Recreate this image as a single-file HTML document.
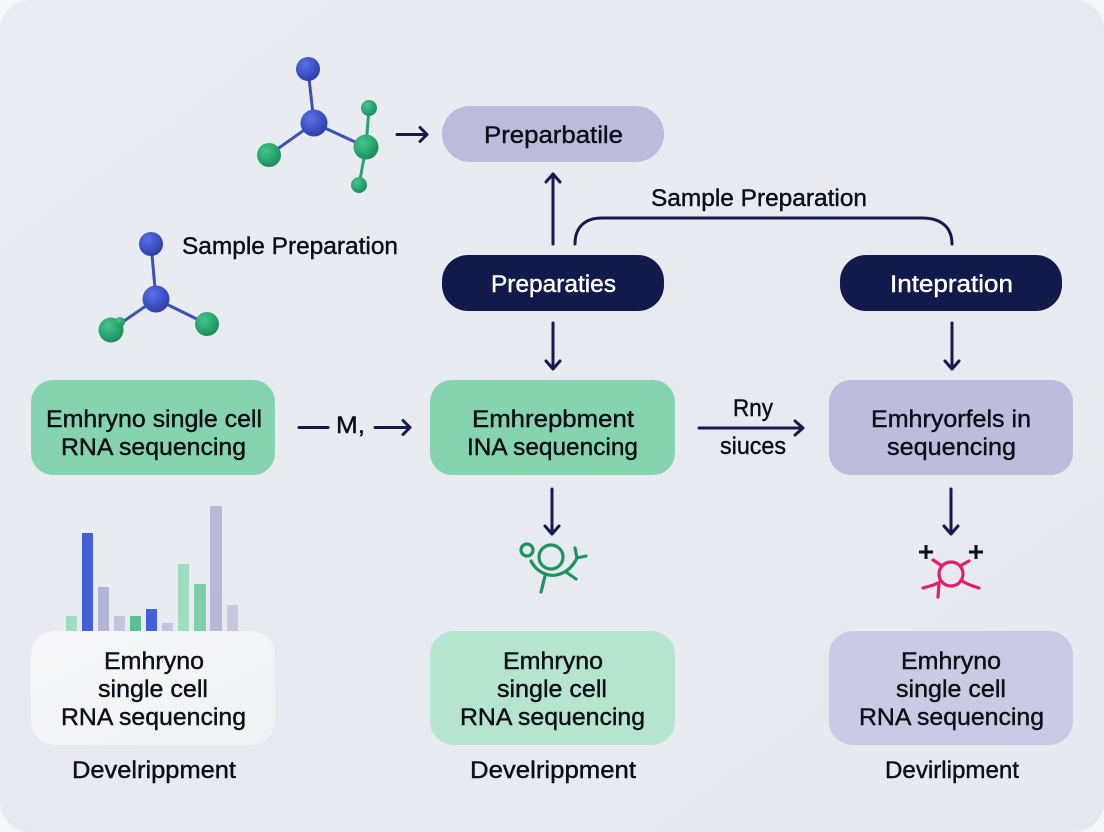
<!DOCTYPE html>
<html><head><meta charset="utf-8"><style>
html,body{margin:0;padding:0;background:#f5f6f8}
svg{display:block}
text{font-family:"Liberation Sans",sans-serif;font-size:24px;fill:#0b0e14;stroke:#0b0e14;stroke-width:.4px}
</style></head><body>
<svg width="1104" height="832" viewBox="0 0 1104 832" xmlns="http://www.w3.org/2000/svg">
<defs>
<radialGradient id="b" cx=".38" cy=".32" r=".75"><stop offset="0" stop-color="#5a72e6"/><stop offset=".6" stop-color="#3a50c4"/><stop offset="1" stop-color="#2c3c9c"/></radialGradient>
<radialGradient id="g" cx=".38" cy=".32" r=".75"><stop offset="0" stop-color="#46c48c"/><stop offset=".6" stop-color="#27a46c"/><stop offset="1" stop-color="#1a8454"/></radialGradient>
<linearGradient id="bg" x1="0" y1="0" x2="1" y2="1"><stop offset="0" stop-color="#e9ecf0"/><stop offset="1" stop-color="#e6e9ef"/></linearGradient>
<linearGradient id="w" x1="0" y1="0" x2="1" y2="1"><stop offset="0" stop-color="#f7f7f8"/><stop offset="1" stop-color="#eff1f4"/></linearGradient>
</defs>
<rect width="1104" height="832" fill="#f5f6f8"/>
<rect width="1104" height="832" rx="30" fill="url(#bg)"/>

<!-- bars -->
<g>
<rect x="66" y="616" width="11" height="16" fill="#a0dcc0"/>
<rect x="82" y="533" width="11" height="99" fill="#4460d8"/>
<rect x="98" y="587" width="11" height="45" fill="#b4b4d8"/>
<rect x="114" y="616" width="11" height="16" fill="#c4c4de"/>
<rect x="130" y="616" width="11" height="16" fill="#5cc090"/>
<rect x="146" y="609" width="11" height="23" fill="#4460d8"/>
<rect x="162" y="623" width="11" height="9" fill="#c4c4e2"/>
<rect x="178" y="564" width="11" height="68" fill="#a0dcc0"/>
<rect x="194" y="584" width="12" height="48" fill="#7ed0a8"/>
<rect x="210" y="506" width="12" height="126" fill="#b8b8d8"/>
<rect x="227" y="605" width="11" height="27" fill="#c8c8e0"/>
</g>

<!-- boxes -->
<rect x="442" y="106" width="222" height="56" rx="28" fill="#bcbbdc"/>
<rect x="442" y="255" width="222" height="56" rx="26" fill="#121a4b"/>
<rect x="840" y="255" width="222" height="56" rx="26" fill="#121a4b"/>
<rect x="31" y="380" width="244" height="95" rx="22" fill="#86d3b0"/>
<rect x="430" y="380" width="245" height="95" rx="22" fill="#86d3b0"/>
<rect x="829" y="380" width="244" height="95" rx="22" fill="#bdbcdc"/>
<rect x="31" y="631" width="244" height="114" rx="24" fill="url(#w)"/>
<rect x="430" y="631" width="245" height="114" rx="24" fill="#b5e5cf"/>
<rect x="829" y="631" width="244" height="114" rx="24" fill="#cbc9e3"/>

<!-- connectors -->
<g fill="none" stroke="#15194d" stroke-width="3" stroke-linecap="round" stroke-linejoin="round">
<path d="M397 134.500H427M420 127.500l7 7-7 7"/>
<path d="M553 244V174M546 182l7-8 7 8"/>
<path d="M575 244C575 228 584 218 602 218H922C942 218 952 228 952 244"/>
<path d="M553 323V369M546 361l7 8 7-8"/>
<path d="M952 323V369M945 361l7 8 7-8"/>
<path d="M299 427.500H328"/>
<path d="M375 427.500H410M403 420.500l7 7-7 7"/>
<path d="M699 428H802M795 421l8 7-8 7"/>
<path d="M552 489V534M545 526l7 8 7-8"/>
<path d="M951 489V534M944 526l7 8 7-8"/>
</g>

<!-- molecules -->
<g stroke-width="3" fill="none">
<path d="M308 69L314 123M314 123L269 155" stroke="#3f4fb8"/>
<path d="M314 123L366 147" stroke="#3f4fb8"/>
<path d="M369 108L366 147L359 185" stroke="#2aa46e"/>
<path d="M151 244L156 299L111 330M156 299L207 324" stroke="#3f4fb8"/>
</g>
<circle cx="308" cy="69" r="12" fill="url(#b)"/>
<circle cx="314" cy="123" r="13.500" fill="url(#b)"/>
<circle cx="269" cy="155" r="12" fill="url(#g)"/>
<circle cx="366" cy="147" r="12.500" fill="url(#g)"/>
<circle cx="369" cy="108" r="8" fill="url(#g)"/>
<circle cx="359" cy="185" r="8" fill="url(#g)"/>
<circle cx="151" cy="244" r="12" fill="url(#b)"/>
<circle cx="156" cy="299" r="13.500" fill="url(#b)"/>
<circle cx="111" cy="330" r="12.500" fill="url(#g)"/>
<circle cx="120" cy="322" r="5" fill="url(#g)"/>
<circle cx="207" cy="324" r="12" fill="url(#g)"/>

<!-- green icon -->
<g fill="none" stroke="#1f9160" stroke-width="3.200" stroke-linecap="round" stroke-linejoin="round">
<circle cx="527" cy="550" r="6"/>
<circle cx="551" cy="557" r="12"/>
<path d="M531 561C537 573 550 578 560 574C569 571 574 564 577 558"/>
<path d="M577 558L586 556M577 558L575 548M566 572L576 579M545 576L541 592"/>
</g>

<!-- pink icon -->
<g fill="none" stroke="#e0206e" stroke-width="3.200" stroke-linecap="round" stroke-linejoin="round">
<circle cx="951" cy="574" r="12"/>
<path d="M933 560L942 566M969 561L960 566M923 588C930 586 936 585 941 581M979 588C972 586 966 584 961 580M939 583L938 597"/>
</g>
<g fill="none" stroke="#0e1118" stroke-width="3">
<path d="M919 552H933M926 545V559M969 552H983M976 545V559"/>
</g>

<!-- text -->
<text x="484" y="143" textLength="139" lengthAdjust="spacingAndGlyphs">Preparbatile</text>
<text x="651" y="206" textLength="216" lengthAdjust="spacingAndGlyphs">Sample Preparation</text>
<text x="182" y="254" textLength="216" lengthAdjust="spacingAndGlyphs">Sample Preparation</text>
<text x="491" y="292" textLength="125" lengthAdjust="spacingAndGlyphs" style="fill:#fff;stroke:#fff">Preparaties</text>
<text x="890" y="292" textLength="123" lengthAdjust="spacingAndGlyphs" style="fill:#fff;stroke:#fff">Intepration</text>

<text x="46" y="427" textLength="216" lengthAdjust="spacingAndGlyphs">Emhryno single cell</text>
<text x="61" y="455" textLength="185" lengthAdjust="spacingAndGlyphs">RNA sequencing</text>
<text x="472" y="427" textLength="162" lengthAdjust="spacingAndGlyphs">Emhrepbment</text>
<text x="467" y="455" textLength="171" lengthAdjust="spacingAndGlyphs">INA sequencing</text>
<text x="871" y="427" textLength="160" lengthAdjust="spacingAndGlyphs">Emhryorfels in</text>
<text x="887" y="455" textLength="129" lengthAdjust="spacingAndGlyphs">sequencing</text>

<text x="336" y="433" textLength="29" lengthAdjust="spacingAndGlyphs">M,</text>
<text x="733" y="416" textLength="40" lengthAdjust="spacingAndGlyphs">Rny</text>
<text x="720" y="454" textLength="66" lengthAdjust="spacingAndGlyphs">siuces</text>

<text x="104" y="669" textLength="100" lengthAdjust="spacingAndGlyphs">Emhryno</text>
<text x="98" y="697" textLength="110" lengthAdjust="spacingAndGlyphs">single cell</text>
<text x="61" y="725" textLength="185" lengthAdjust="spacingAndGlyphs">RNA sequencing</text>
<text x="503" y="669" textLength="100" lengthAdjust="spacingAndGlyphs">Emhryno</text>
<text x="497" y="697" textLength="110" lengthAdjust="spacingAndGlyphs">single cell</text>
<text x="460" y="725" textLength="185" lengthAdjust="spacingAndGlyphs">RNA sequencing</text>
<text x="901" y="669" textLength="100" lengthAdjust="spacingAndGlyphs">Emhryno</text>
<text x="896" y="697" textLength="110" lengthAdjust="spacingAndGlyphs">single cell</text>
<text x="859" y="725" textLength="185" lengthAdjust="spacingAndGlyphs">RNA sequencing</text>

<text x="72" y="778" textLength="164" lengthAdjust="spacingAndGlyphs">Develrippment</text>
<text x="470" y="778" textLength="166" lengthAdjust="spacingAndGlyphs">Develrippment</text>
<text x="885" y="778" textLength="134" lengthAdjust="spacingAndGlyphs">Devirlipment</text>
</svg>
</body></html>
